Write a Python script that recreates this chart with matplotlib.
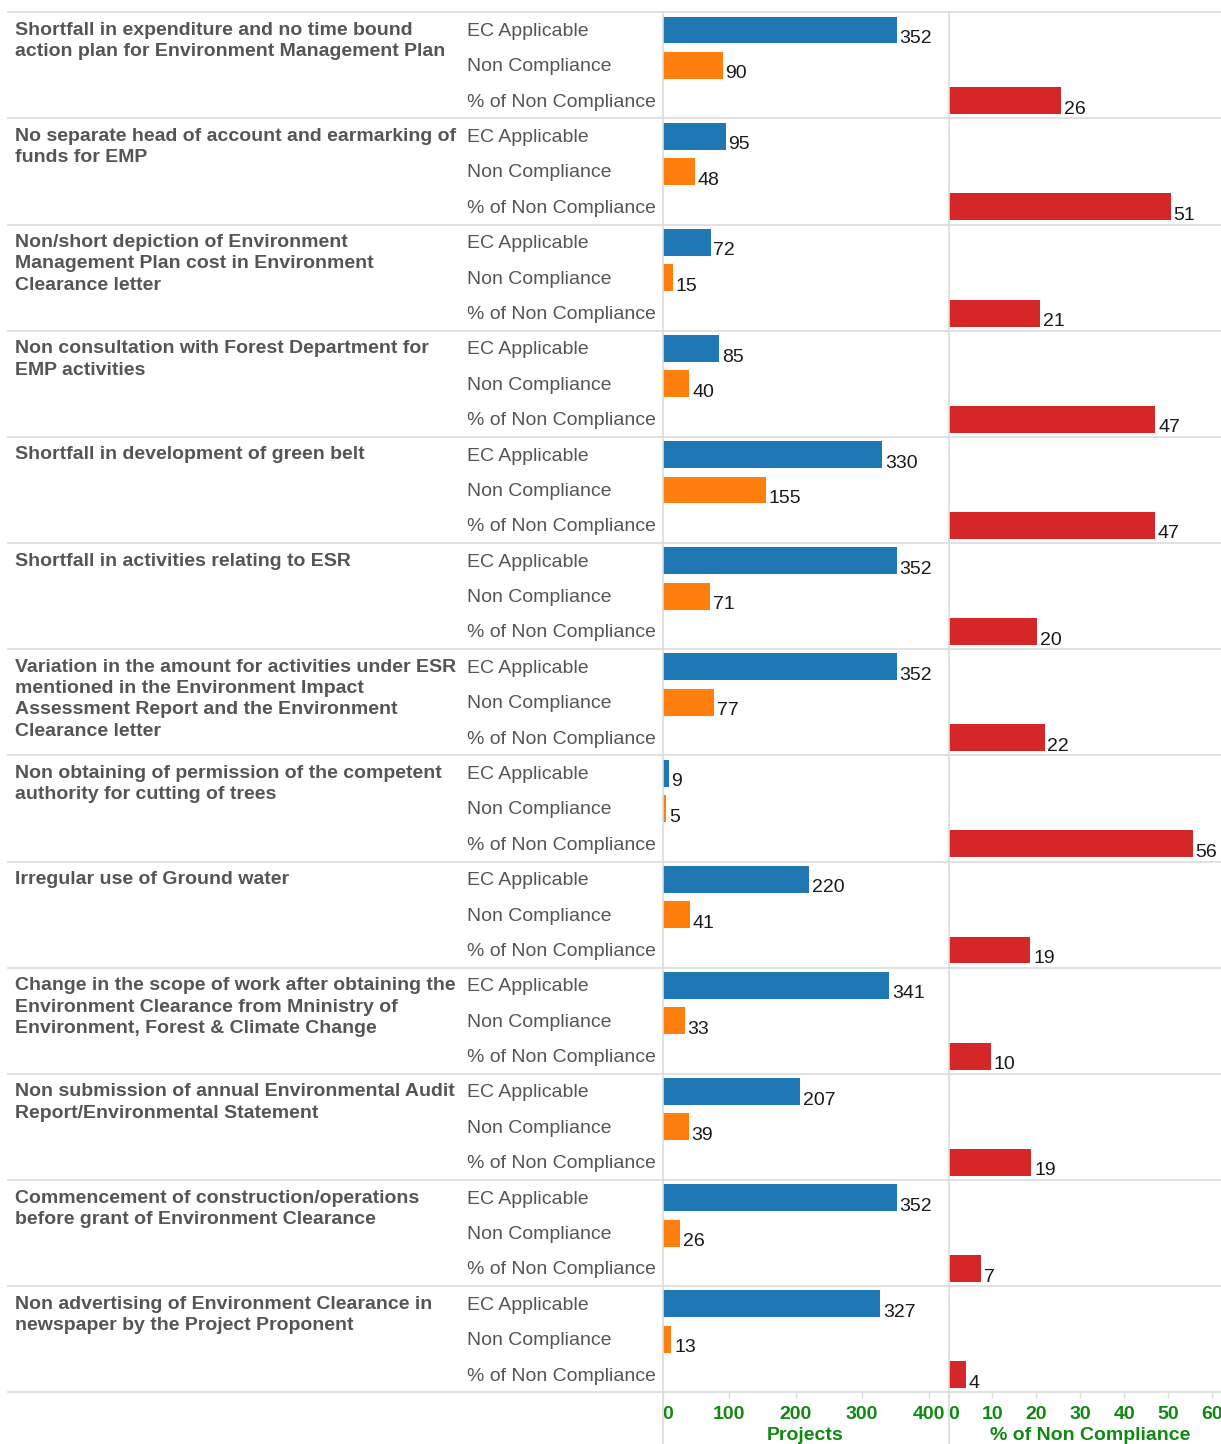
import matplotlib
matplotlib.use("Agg")
import matplotlib.pyplot as plt
from matplotlib.lines import Line2D

plt.rcParams['font.family'] = ['Liberation Sans', 'DejaVu Sans']

categories = [
    "Shortfall in expenditure and no time bound\naction plan for Environment Management Plan",
    "No separate head of account and earmarking of\nfunds for EMP",
    "Non/short depiction of Environment\nManagement Plan cost in Environment\nClearance letter",
    "Non consultation with Forest Department for\nEMP activities",
    "Shortfall in development of green belt",
    "Shortfall in activities relating to ESR",
    "Variation in the amount for activities under ESR\nmentioned in the Environment Impact\nAssessment Report and the Environment\nClearance letter",
    "Non obtaining of permission of the competent\nauthority for cutting of trees",
    "Irregular use of Ground water",
    "Change in the scope of work after obtaining the\nEnvironment Clearance from Mninistry of\nEnvironment, Forest & Climate Change",
    "Non submission of annual Environmental Audit\nReport/Environmental Statement",
    "Commencement of construction/operations\nbefore grant of Environment Clearance",
    "Non advertising of Environment Clearance in\nnewspaper by the Project Proponent",
]
measures = ["EC Applicable", "Non Compliance", "% of Non Compliance"]
ec_applicable = [352, 95, 72, 85, 330, 352, 352, 9, 220, 341, 207, 352, 327]
non_compliance = [90, 48, 15, 40, 155, 71, 77, 5, 41, 33, 39, 26, 13]
pct_non_compliance = [25.57, 50.53, 20.83, 47.06, 46.97, 20.17, 21.88, 55.56,
                      18.64, 9.68, 18.84, 7.39, 3.98]
proj_ticks = [0, 100, 200, 300, 400]
pct_ticks = [0, 10, 20, 30, 40, 50, 60]

c_blue = '#1f77b4'
c_orange = '#ff7f0e'
c_red = '#d62728'
c_green = '#118811'
c_grid = '#dcdcdc'

W, H = 1221, 1444
top_px, bot_px = 12.3, 1392.3
x1_px, x2_px = 662.7, 948.5
bottom = 1 - bot_px / H
height = (bot_px - top_px) / H
n = len(categories)
nrows = n * 3

fig = plt.figure(figsize=(W / 100, H / 100), dpi=100)

# background axes for group labels and separators
ax0 = fig.add_axes([0, bottom, 1, height])
ax0.set_xlim(0, 1)
ax0.set_ylim(nrows - 0.5, -0.5)
ax0.axis('off')
for g in range(n + 1):
    ax0.plot([8 / W, 1], [g * 3 - 0.5] * 2, color=c_grid, lw=1.2, clip_on=False)
for g, cat in enumerate(categories):
    ax0.text(15 / W, g * 3 - 0.5 + 0.27, cat, ha='left', va='top', fontsize=14,
             fontweight='bold', color='#555555', linespacing=1.33)
    for r, m in enumerate(measures):
        ax0.text(467 / W, g * 3 + r + 0.04, m, ha='left', va='center', fontsize=14,
                 color='#555555')

for x in (x1_px, x2_px):
    fig.add_artist(Line2D([x / W, x / W], [0, 1 - top_px / H], color=c_grid, lw=1.2))

ax1 = fig.add_axes([x1_px / W, bottom, (x2_px - x1_px) / W, height])
ax2 = fig.add_axes([x2_px / W, bottom, (W - x2_px) / W, height])
ax1.set_xlim(0, 430)
ax2.set_xlim(0, 62)

bh = 0.76
y_ec = [g * 3 for g in range(n)]
y_nc = [g * 3 + 1 for g in range(n)]
y_pc = [g * 3 + 2 for g in range(n)]
ax1.barh(y_ec, ec_applicable, height=bh, color=c_blue)
ax1.barh(y_nc, non_compliance, height=bh, color=c_orange)
ax2.barh(y_pc, pct_non_compliance, height=bh, color=c_red)

for y, v in zip(y_ec, ec_applicable):
    ax1.annotate(str(v), (v, y + 0.37), xytext=(2, 0), textcoords='offset points',
                 va='baseline', ha='left', fontsize=14, color='#1a1a1a')
for y, v in zip(y_nc, non_compliance):
    ax1.annotate(str(v), (v, y + 0.37), xytext=(2, 0), textcoords='offset points',
                 va='baseline', ha='left', fontsize=14, color='#1a1a1a')
for y, v in zip(y_pc, pct_non_compliance):
    ax2.annotate("%d" % int(v + 0.5), (v, y + 0.37), xytext=(2, 0),
                 textcoords='offset points', va='baseline', ha='left',
                 fontsize=14, color='#1a1a1a')

for ax, ticks, label in ((ax1, proj_ticks, "Projects"), (ax2, pct_ticks, "% of Non Compliance")):
    ax.set_ylim(nrows - 0.5, -0.5)
    ax.patch.set_alpha(0)
    for s in ax.spines.values():
        s.set_visible(False)
    ax.set_yticks([])
    ax.set_xticks(ticks)
    ax.set_xticklabels([str(t) for t in ticks], fontsize=14, fontweight='bold',
                       color=c_green)
    ax.get_xticklabels()[0].set_horizontalalignment('left')
    ax.tick_params(axis='x', length=4, width=1, color=c_grid, pad=6)
    ax.set_xlabel(label, fontsize=14, fontweight='bold', color=c_green, labelpad=2)

ax1.xaxis.set_label_coords(0.5, -0.0255)
ax2.xaxis.set_label_coords(0.52, -0.0255)

fig.savefig("out.png", dpi=100)
